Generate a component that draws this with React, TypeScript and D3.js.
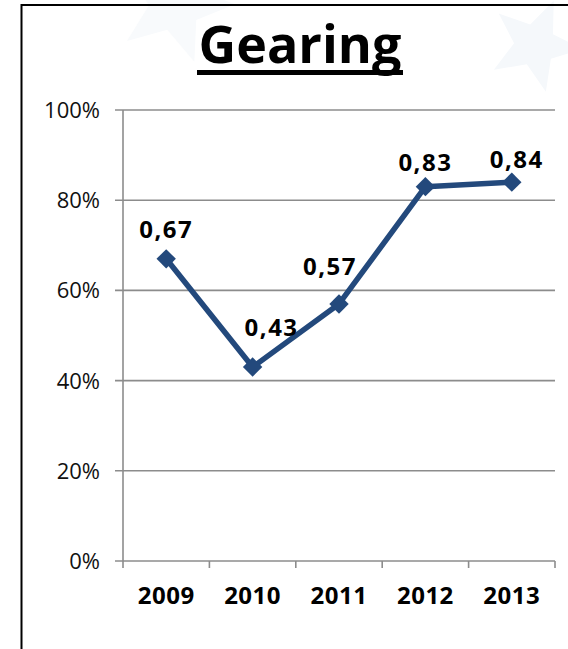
import React from "react";
import * as d3 from "d3";

const years = ["2009", "2010", "2011", "2012", "2013"];
const gearing = [0.67, 0.43, 0.57, 0.83, 0.84];
const yTicks = [0, 0.2, 0.4, 0.6, 0.8, 1.0];
const labelNudges: [number, number][] = [
  [0, -21],
  [19, -31],
  [-9, -29],
  [0, -16],
  [5, -14],
];

const W = 568;
const H = 649;
const left = 123;
const right = 555;
const top = 110;
const bottom = 561;
const lineColor = "#23497c";
const gridColor = "#8c8c8c";

function starPoints(cx: number, cy: number, R: number, r: number, rot: number) {
  const pts: string[] = [];
  for (let i = 0; i < 10; i++) {
    const a = rot + (i * Math.PI) / 5;
    const rad = i % 2 === 0 ? R : r;
    pts.push(`${cx + rad * Math.sin(a)},${cy - rad * Math.cos(a)}`);
  }
  return pts.join(" ");
}

export default function App() {
  const x = d3.scaleBand<string>().domain(years).range([left, right]);
  const y = d3.scaleLinear().domain([0, 1]).range([bottom, top]);
  const pct = d3.format(".0%");
  const cx = (d: string) => (x(d) as number) + x.bandwidth() / 2;
  const line = d3
    .line<number>()
    .x((_, i) => cx(years[i]))
    .y((v) => y(v));
  const diamond = d3.symbol(d3.symbolDiamond2, 240)();
  const fmt = (v: number) => v.toFixed(2).replace(".", ",");
  const xTickPos = [...years.map((d) => x(d) as number), right];

  return (
    <svg
      width={W}
      height={H}
      style={{ position: "fixed", left: 0, top: 0, background: "#fff" }}
      fontFamily="'Open Sans', sans-serif"
    >
      <rect x={0} y={0} width={W} height={H} fill="#fff" />
      {/* faint background stars */}
      <polygon points={starPoints(175, 5, 60, 26, 0.3)} fill="#f8fafc" />
      <polygon points={starPoints(535, 45, 48, 21, 0.4)} fill="#f5f8fb" />
      {/* frame */}
      <line x1={21.5} y1={4} x2={21.5} y2={H} stroke="#000" strokeWidth={2} />
      <line x1={21} y1={5} x2={W} y2={5} stroke="#000" strokeWidth={2} />
      {/* title */}
      <text
        x={300}
        y={63}
        textAnchor="middle"
        fontSize={52}
        fontWeight="bold"
        fill="#000"
      >
        Gearing
      </text>
      <rect x={197} y={70} width={206} height={5} fill="#000" />
      {/* gridlines + y labels */}
      {yTicks.map((t) => (
        <g key={t}>
          <line
            x1={left - 8}
            x2={right}
            y1={y(t)}
            y2={y(t)}
            stroke={gridColor}
            strokeWidth={1.6}
          />
          <text
            x={100}
            y={y(t) + 8}
            textAnchor="end"
            fontSize={22}
            fill="#111"
          >
            {pct(t)}
          </text>
        </g>
      ))}
      <line x1={left} x2={left} y1={top} y2={bottom} stroke={gridColor} strokeWidth={1.6} />
      {xTickPos.map((p, i) => (
        <line key={i} x1={p} x2={p} y1={bottom} y2={bottom + 7} stroke={gridColor} strokeWidth={1.6} />
      ))}
      {years.map((d) => (
        <text
          key={d}
          x={cx(d)}
          y={604}
          textAnchor="middle"
          fontSize={24}
          fontWeight="bold"
          letterSpacing={0.5}
          fill="#000"
        >
          {d}
        </text>
      ))}
      {/* series */}
      <path d={line(gearing) || ""} fill="none" stroke={lineColor} strokeWidth={5.5} strokeLinejoin="round" />
      {gearing.map((v, i) => (
        <path
          key={i}
          d={diamond || ""}
          transform={`translate(${cx(years[i])},${y(v)})`}
          fill={lineColor}
        />
      ))}
      {gearing.map((v, i) => (
        <text
          key={i}
          x={cx(years[i]) + labelNudges[i][0]}
          y={y(v) + labelNudges[i][1]}
          textAnchor="middle"
          fontSize={24}
          fontWeight="bold"
          letterSpacing={1.5}
          fill="#000"
        >
          {fmt(v)}
        </text>
      ))}
    </svg>
  );
}
